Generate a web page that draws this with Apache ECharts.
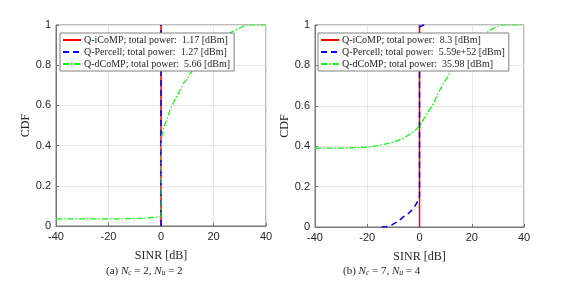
<!DOCTYPE html>
<html>
<head>
<meta charset="utf-8">
<script src="https://cdn.jsdelivr.net/npm/echarts@6/dist/echarts.min.js"></script>
<style>
html,body{margin:0;padding:0;background:#fff;}
#c{width:567px;height:285px;}
</style>
</head>
<body>
<div id="c"></div>
<script>
// ---- Data ----
const xTicks = [-40, -20, 0, 20, 40];
const yTicks = [0, 0.2, 0.4, 0.6, 0.8, 1];

const namesA = ['Q-iCoMP; total power:  1.17 [dBm]', 'Q-Percell; total power:  1.27 [dBm]', 'Q-dCoMP; total power:  5.66 [dBm]'];
const namesB = ['Q-iCoMP; total power:  8.3 [dBm]', 'Q-Percell; total power:  5.59e+52 [dBm]', 'Q-dCoMP; total power:  35.98 [dBm]'];

// Panel (a)
const aICoMP_x = [0, 0];
const aICoMP_y = [0, 1];
const aPercell_x = [0, 0];
const aPercell_y = [0, 1];
const aDCoMP_x = [-40, -30, -20, -10, -5, -1, 0, 0.2, 1, 2.2, 3.5, 5.3, 7, 8.5, 9.8, 11.7, 14, 17, 21, 24, 26.3, 27.6, 30, 32.2, 40];
const aDCoMP_y = [0.035, 0.035, 0.035, 0.037, 0.04, 0.045, 0.05, 0.44, 0.49, 0.53, 0.58, 0.63, 0.67, 0.71, 0.73, 0.77, 0.82, 0.87, 0.92, 0.945, 0.96, 0.97, 0.985, 1.0, 1.0];

// Panel (b)
const bICoMP_x = [0, 0];
const bICoMP_y = [0, 1];
const bPercell_x = [-14.5, -12, -10.6, -8, -6.2, -4, -2.4, -1, 0, 0, 0.5, 1.5, 3];
const bPercell_y = [0, 0.003, 0.01, 0.03, 0.05, 0.07, 0.09, 0.12, 0.15, 0.99, 0.995, 1.0, 1.0];
const bDCoMP_x = [-40, -30, -20, -15, -10, -6, -3.6, -1.5, 0.2, 2.5, 5.3, 7, 9.1, 11, 12.9, 14.1, 17, 20, 23, 27, 30.8, 40];
const bDCoMP_y = [0.39, 0.39, 0.395, 0.405, 0.42, 0.44, 0.46, 0.48, 0.505, 0.555, 0.61, 0.66, 0.71, 0.75, 0.79, 0.81, 0.85, 0.89, 0.93, 0.975, 1.0, 1.0];

const captionA = ['(a) ', 'N', 'c', ' = 2, ', 'N', 'u', ' = 2'];
const captionB = ['(b) ', 'N', 'c', ' = 7, ', 'N', 'u', ' = 4'];

// ---- Build ----
const zip = (xs, ys) => xs.map((x, i) => [x, ys[i]]);
const RED = '#ff0000', BLUE = '#0000ff', GREEN = '#00ff00';
const serif = '"Liberation Serif", "DejaVu Serif", serif';
const sans = '"Liberation Sans", Arial, sans-serif';

function mkSeries(name, xs, ys, idx, color, type, width) {
  return {
    name: name, type: 'line', xAxisIndex: idx, yAxisIndex: idx,
    data: zip(xs, ys), showSymbol: false, symbol: 'none', smooth: false,
    lineStyle: {color: color, width: width, type: type},
    itemStyle: {color: color},
    animation: false, z: 3
  };
}

function xAx(idx) {
  return {
    type: 'value', gridIndex: idx, min: xTicks[0], max: xTicks[xTicks.length - 1], interval: 20,
    name: 'SINR [dB]', nameLocation: 'middle', nameGap: 24,
    nameTextStyle: {fontFamily: serif, fontSize: 12, color: '#262626'},
    axisLine: {show: true, onZero: false, lineStyle: {color: '#777', width: 1}},
    axisTick: {show: true, inside: true, length: 3, lineStyle: {color: '#777'}},
    axisLabel: {fontFamily: sans, fontSize: 11, color: '#262626', margin: 5},
    splitLine: {show: true, lineStyle: {color: '#e6e6e6', width: 1}}
  };
}
function yAx(idx) {
  return {
    type: 'value', gridIndex: idx, min: 0, max: 1, interval: 0.2,
    name: 'CDF', nameLocation: 'middle', nameGap: 24, nameRotate: 90,
    nameTextStyle: {fontFamily: serif, fontSize: 12, color: '#262626'},
    axisLine: {show: true, onZero: false, lineStyle: {color: '#777', width: 1}},
    axisTick: {show: true, inside: true, length: 3, lineStyle: {color: '#777'}},
    axisLabel: {fontFamily: sans, fontSize: 11, color: '#262626', margin: 5,
      formatter: v => String(Math.round(v * 10) / 10)},
    splitLine: {show: true, lineStyle: {color: '#e6e6e6', width: 1}}
  };
}

function legend(names, left) {
  return {
    orient: 'vertical', left: left, top: 33, data: names,
    itemStyle: {opacity: 0, borderWidth: 0},
    backgroundColor: '#fff', borderColor: '#808080', borderWidth: 1,
    padding: [2, 4, 2, 2], itemGap: 2, itemWidth: 18, itemHeight: 10,
    textStyle: {fontFamily: serif, fontSize: 10, color: '#262626', padding: [0, 0, 0, -2]},
    z: 10
  };
}

function caption(parts, x) {
  const txt = '{n|' + parts[0] + '}{i|' + parts[1] + '}{s|' + parts[2] + '}{n|' + parts[3] + '}{i|' + parts[4] + '}{s|' + parts[5] + '}{n|' + parts[6] + '}';
  return {
    type: 'text', left: x, top: 266,
    style: {
      text: txt, fill: '#262626',
      rich: {
        n: {fontFamily: serif, fontSize: 11, lineHeight: 14, verticalAlign: 'bottom'},
        i: {fontFamily: serif, fontSize: 11, fontStyle: 'italic', lineHeight: 14, verticalAlign: 'bottom'},
        s: {fontFamily: serif, fontSize: 7.5, fontStyle: 'italic', lineHeight: 14, verticalAlign: 'bottom'}
      }
    }
  };
}

const option = {
  backgroundColor: '#fff',
  animation: false,
  grid: [
    {left: 56, top: 25, width: 210, height: 201, show: true, borderColor: '#777', borderWidth: 1, backgroundColor: 'transparent'},
    {left: 315, top: 25, width: 209, height: 202, show: true, borderColor: '#777', borderWidth: 1, backgroundColor: 'transparent'}
  ],
  xAxis: [xAx(0), xAx(1)],
  yAxis: [yAx(0), yAx(1)],
  legend: [legend(namesA, 60), legend(namesB, 318)],
  series: [
    mkSeries(namesA[0], aICoMP_x, aICoMP_y, 0, RED, 'solid', 1.5),
    mkSeries(namesA[1], aPercell_x, aPercell_y, 0, BLUE, [6, 4], 1.5),
    mkSeries(namesA[2], aDCoMP_x, aDCoMP_y, 0, GREEN, [6, 2, 1.5, 2], 1.2),
    mkSeries(namesB[0], bICoMP_x, bICoMP_y, 1, RED, 'solid', 1.5),
    mkSeries(namesB[1], bPercell_x, bPercell_y, 1, BLUE, [6, 4], 1.5),
    mkSeries(namesB[2], bDCoMP_x, bDCoMP_y, 1, GREEN, [6, 2, 1.5, 2], 1.2)
  ],
  graphic: [caption(captionA, 106), caption(captionB, 343)]
};

const chart = echarts.init(document.getElementById('c'), null, {renderer: 'canvas'});
chart.setOption(option);
</script>
</body>
</html>
